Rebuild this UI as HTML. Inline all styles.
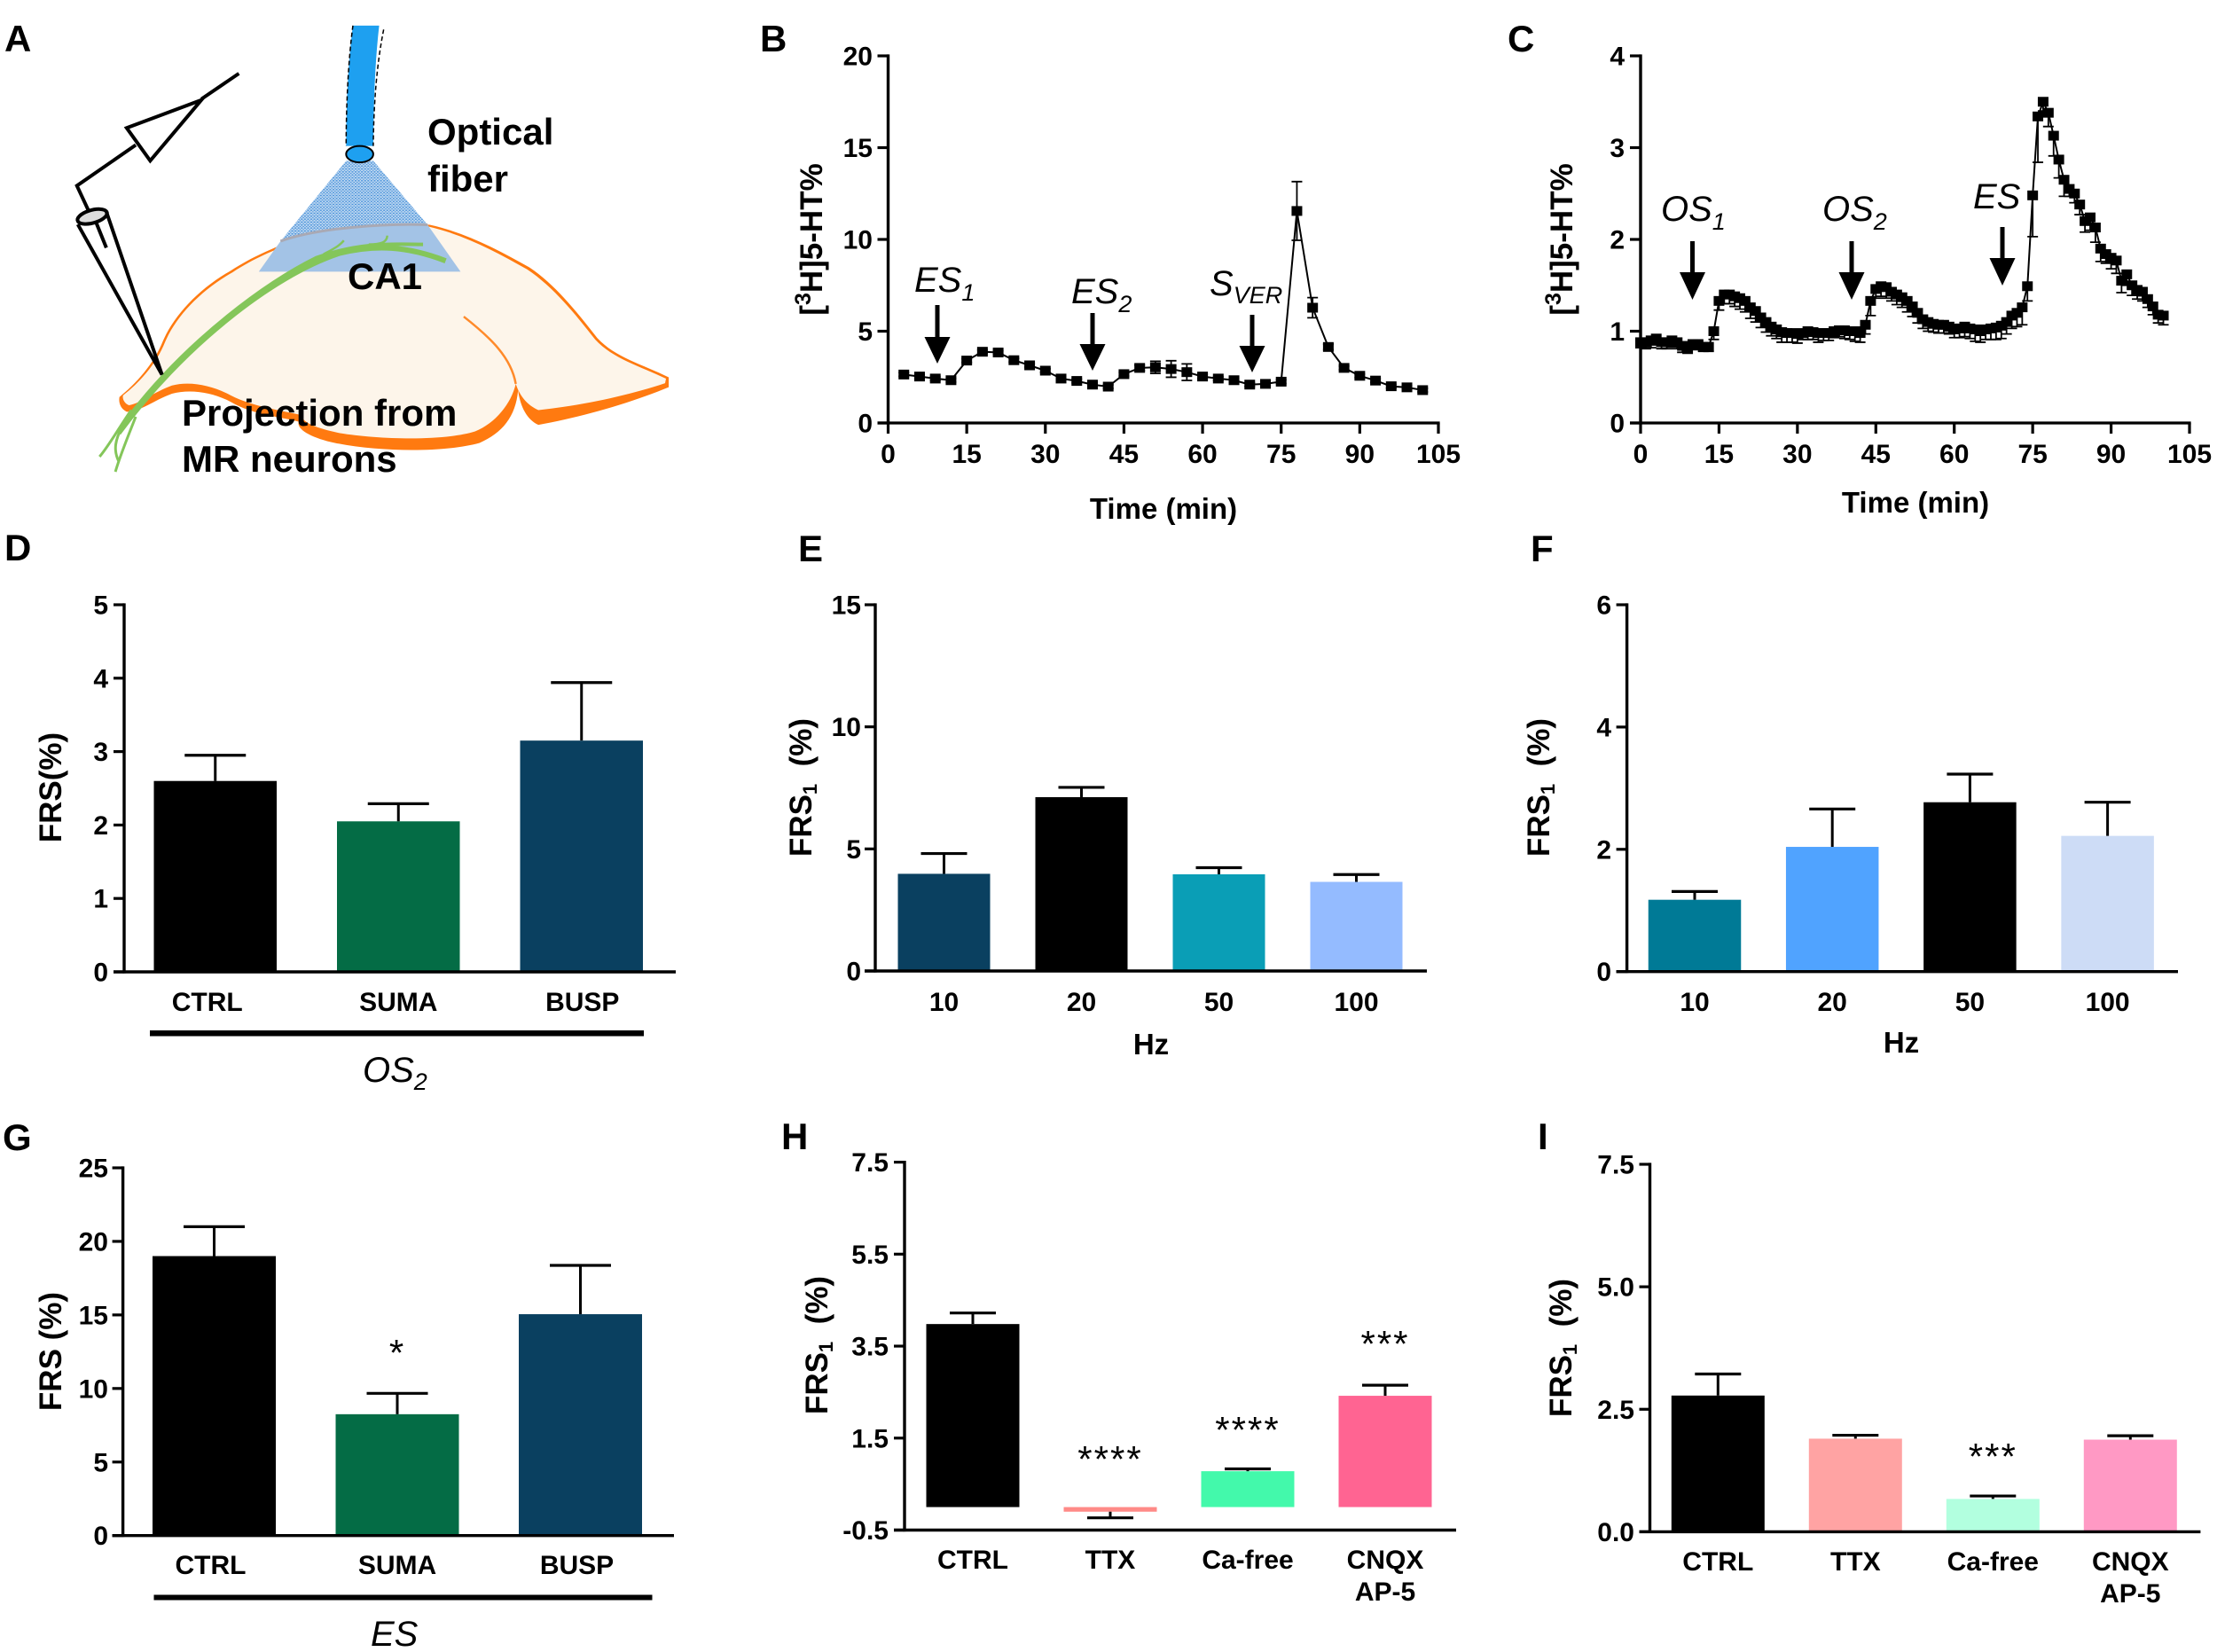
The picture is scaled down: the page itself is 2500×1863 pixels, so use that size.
<!DOCTYPE html>
<html lang="en">
<head>
<meta charset="utf-8">
<title>Optogenetic and electrical stimulation of 5-HT release</title>
<style>
html,body{margin:0;padding:0;background:#fff;}
svg{display:block;}
text{font-family:"Liberation Sans",Arial,sans-serif;fill:#000;}
.panel{font-size:42px;font-weight:bold;}
.title{font-size:35px;font-weight:bold;text-anchor:middle;}
.xtitle{font-size:33px;font-weight:bold;text-anchor:middle;}
.tick{font-size:30px;font-weight:bold;}
.it{font-size:40px;font-style:italic;}
.dia{font-size:42px;font-weight:bold;}
</style>
</head>
<body>
<svg id="figure" xmlns="http://www.w3.org/2000/svg" width="2500" height="1863" viewBox="0 0 2500 1863">
<defs>
<pattern id="dots" width="7" height="9" patternUnits="userSpaceOnUse">
<rect width="7" height="9" fill="#c3dbf2"/>
<rect x="0" y="0" width="4" height="4" fill="#4a92da"/>
<rect x="4" y="5" width="3" height="3" fill="#4a92da"/>
</pattern>
</defs>

<g>
<g transform="scale(.5102 .37)">
<path fill="#ff7a10" d="M264 1210 C300 1170 340 1110 360 1040 C385 960 440 880 510 825 C560 780 600 760 640 735 C720 700 860 680 950 685 C1030 710 1100 760 1170 815 C1230 870 1280 960 1320 1030 C1360 1090 1420 1110 1478 1150 L1478 1180 C1400 1225 1290 1270 1190 1295 C1165 1280 1150 1240 1145 1190 C1140 1270 1110 1320 1060 1350 C980 1380 840 1378 740 1350 C690 1335 655 1310 660 1285 C620 1270 560 1265 510 1225 C470 1195 420 1185 380 1200 C340 1220 310 1255 280 1255 C265 1245 262 1225 264 1210 Z"/>
<path fill="#fdf5ea" d="M272 1205 C305 1170 345 1112 365 1042 C390 962 445 884 514 830 C564 785 604 765 644 740 C720 705 860 686 948 691 C1026 716 1095 766 1165 821 C1225 876 1275 964 1315 1034 C1355 1094 1415 1116 1472 1154 L1470 1168 C1390 1205 1290 1235 1190 1250 C1165 1235 1148 1205 1140 1170 C1130 1230 1095 1290 1050 1315 C980 1345 840 1340 750 1320 C700 1305 670 1290 665 1265 C620 1250 560 1240 510 1205 C470 1175 420 1160 380 1175 C340 1195 310 1230 285 1235 C275 1230 270 1215 272 1205 Z"/>
<path fill="none" stroke="#ff8a2a" stroke-width="2.5" vector-effect="non-scaling-stroke" d="M1025 965 C1085 1030 1130 1090 1140 1170"/>
<polygon fill="url(#dots)" points="765,490 825,490 945,685 800,690 620,735"/>
<path fill="#a3c3e6" d="M620 735 C700 695 850 680 945 685 L1018 828 L572 828 Z"/>
<path fill="none" stroke="#a9a9b4" stroke-width="3" vector-effect="non-scaling-stroke" d="M620 735 C700 695 850 680 945 685"/>
<path fill="#1ea0f0" d="M780 78 L838 78 C828 200 826 320 825 445 L765 445 C765 320 770 180 780 78 Z"/>
<path fill="none" stroke="#000" stroke-width="1.5" stroke-dasharray="5 3" vector-effect="non-scaling-stroke" d="M848 90 C832 200 826 320 825 445 M780 78 C770 180 765 320 765 445"/>
<ellipse cx="795" cy="470" rx="30" ry="25" fill="#1ea0f0" stroke="#000" stroke-width="2" vector-effect="non-scaling-stroke"/>
<g fill="none" stroke="#84c65a" vector-effect="non-scaling-stroke">
<path stroke-width="6" vector-effect="non-scaling-stroke" d="M262 1320 C400 1060 600 840 750 772 C830 745 900 750 985 795"/>
<path stroke-width="4" vector-effect="non-scaling-stroke" d="M290 1260 C420 1030 590 860 700 785 C800 735 880 745 935 745"/>
<path stroke-width="2.5" vector-effect="non-scaling-stroke" d="M715 775 C735 760 750 750 760 733"/>
<path stroke-width="2.5" vector-effect="non-scaling-stroke" d="M815 745 C840 745 855 740 856 718"/>
<path stroke-width="3" vector-effect="non-scaling-stroke" d="M290 1250 C260 1310 240 1360 220 1392"/>
<path stroke-width="3" vector-effect="non-scaling-stroke" d="M300 1270 C280 1340 265 1390 255 1438"/>
<path stroke-width="3" vector-effect="non-scaling-stroke" d="M270 1300 C255 1340 250 1370 262 1405"/>
</g>
<g fill="none" stroke="#000" stroke-width="4">
<path vector-effect="non-scaling-stroke" d="M528 224 L445 302"/>
<polygon vector-effect="non-scaling-stroke" points="280,390 445,305 332,490"/>
<path vector-effect="non-scaling-stroke" d="M300 442 L170 566 L195 640"/>
<ellipse vector-effect="non-scaling-stroke" cx="204" cy="660" rx="35" ry="19" transform="rotate(-25 204 660)" fill="#ddd"/>
<path vector-effect="non-scaling-stroke" d="M172 684 L358 1142 L235 645"/>
<path vector-effect="non-scaling-stroke" d="M213 680 L235 755"/>
</g>
</g>
<text class="dia" x="482" y="163">Optical</text>
<text class="dia" x="482" y="216">fiber</text>
<text class="dia" x="392" y="326">CA1</text>
<text class="dia" x="205" y="480">Projection from</text>
<text class="dia" x="205" y="532">MR neurons</text>
</g>

<text class="panel" x="5" y="58">A</text>
<text class="panel" x="857" y="58">B</text>
<text class="panel" x="1700" y="58">C</text>
<text class="panel" x="5" y="632">D</text>
<text class="panel" x="900" y="633">E</text>
<text class="panel" x="1726" y="633">F</text>
<text class="panel" x="3" y="1297">G</text>
<text class="panel" x="881" y="1296">H</text>
<text class="panel" x="1734" y="1296">I</text>

<text class="title" transform="translate(927 270) rotate(-90)">[<tspan dy="-13" font-size="25">3</tspan><tspan dy="13">H]5-HT%</tspan></text>
<text class="xtitle" x="1312" y="585">Time (min)</text>
<text class="title" transform="translate(1773 270) rotate(-90)">[<tspan dy="-13" font-size="25">3</tspan><tspan dy="13">H]5-HT%</tspan></text>
<text class="xtitle" x="2160" y="578">Time (min)</text>
<text class="title" transform="translate(69 888) rotate(-90)">FRS(%)</text>
<text class="title" transform="translate(915 888) rotate(-90)">FRS<tspan dy="6" font-size="22">1</tspan><tspan dy="-6">&#160;&#160;(%)</tspan></text>
<text class="xtitle" x="1298" y="1189">Hz</text>
<text class="title" transform="translate(1747 888) rotate(-90)">FRS<tspan dy="6" font-size="22">1</tspan><tspan dy="-6">&#160;&#160;(%)</tspan></text>
<text class="xtitle" x="2144" y="1187">Hz</text>
<text class="title" transform="translate(69 1524) rotate(-90)">FRS (%)</text>
<text class="title" transform="translate(933 1517) rotate(-90)">FRS<tspan dy="6" font-size="22">1</tspan><tspan dy="-6">&#160;&#160;(%)</tspan></text>
<text class="title" transform="translate(1772 1520) rotate(-90)">FRS<tspan dy="6" font-size="22">1</tspan><tspan dy="-6">&#160;&#160;(%)</tspan></text>

<text class="it" x="1031" y="329">ES<tspan dy="10" font-size="27">1</tspan></text>
<text class="it" x="1208" y="342">ES<tspan dy="10" font-size="27">2</tspan></text>
<text class="it" x="1364" y="333">S<tspan dy="9" font-size="27">VER</tspan></text>
<text class="it" x="1873" y="249">OS<tspan dy="10" font-size="27">1</tspan></text>
<text class="it" x="2055" y="249">OS<tspan dy="10" font-size="27">2</tspan></text>
<text class="it" x="2225" y="235">ES</text>

<g fill="#000" stroke="none">
<path d="M1054.5 344h5v36h12l-14.500 30l-14.500-30h12z"/>
<path d="M1229.500 353h5v35h12l-14.500 30l-14.500-30h12z"/>
<path d="M1409.500 355h5v35h12l-14.500 30l-14.500-30h12z"/>
<path d="M1906 272h5v35h12l-14.500 31l-14.500-31h12z"/>
<path d="M2085.500 272h5v35h12l-14.500 31l-14.500-31h12z"/>
<path d="M2255.500 256h5v35h12l-14.500 31l-14.500-31h12z"/>
</g>

<rect x="169" y="1162" width="557" height="6.500" fill="#000"/>
<text class="it" x="409" y="1220">OS<tspan dy="9" font-size="27">2</tspan></text>
<rect x="173.500" y="1798.500" width="562" height="6" fill="#000"/>
<text class="it" x="418" y="1856">ES</text>
<g id="charts"></g>
</svg>

<script>
/* ---------- Panel B ---------- */
const bTimes = [3,6,9,12,15,18,21,24,27,30,33,36,39,42,45,48,51,54,57,60,63,66,69,72,75,78,81,84,87,90,93,96,99,102];
const bValues = [2.64,2.53,2.42,2.33,3.4,3.88,3.84,3.42,3.14,2.85,2.42,2.29,2.09,1.98,2.66,3.0,3.03,2.94,2.77,2.53,2.42,2.33,2.09,2.13,2.25,11.55,6.28,4.14,3.0,2.57,2.31,2.0,1.94,1.79];
const bErrors = [0.1,0.1,0.1,0.1,0.1,0.1,0.1,0.1,0.1,0.1,0.1,0.1,0.1,0.1,0.1,0.15,0.33,0.45,0.45,0.12,0.1,0.1,0.1,0.1,0.1,1.6,0.55,0.15,0.1,0.1,0.1,0.1,0.1,0.1];
const bYTicks = [0,5,10,15,20];
const bXTicks = [0,15,30,45,60,75,90,105];

/* ---------- Panel C ---------- */
const cTimes = [0,1,2,3,4,5,6,7,8,9,10,11,12,13,14,15,16,17,18,19,20,21,22,23,24,25,26,27,28,29,30,31,32,33,34,35,36,37,38,39,40,41,42,43,44,45,46,47,48,49,50,51,52,53,54,55,56,57,58,59,60,61,62,63,64,65,66,67,68,69,70,71,72,73,74,75,76,77,78,79,80,81,82,83,84,85,86,87,88,89,90,91,92,93,94,95,96,97,98,99,100];
const cValues = [0.88,0.88,0.9,0.92,0.88,0.88,0.9,0.88,0.84,0.82,0.86,0.86,0.83,0.83,1.0,1.33,1.4,1.4,1.38,1.36,1.33,1.26,1.22,1.15,1.1,1.05,1.02,0.99,0.98,0.98,0.97,0.98,1.0,0.99,0.98,0.98,0.98,1.0,1.01,1.01,1.0,1.0,0.98,1.07,1.33,1.46,1.49,1.48,1.43,1.4,1.37,1.33,1.27,1.2,1.13,1.1,1.08,1.07,1.07,1.05,1.02,1.03,1.05,1.03,1.02,1.0,1.02,1.03,1.04,1.06,1.1,1.17,1.2,1.26,1.49,2.48,3.34,3.5,3.38,3.13,2.87,2.65,2.55,2.5,2.38,2.2,2.24,2.13,1.9,1.84,1.8,1.77,1.55,1.62,1.5,1.45,1.43,1.35,1.27,1.18,1.17];
const cErrors = [0.06,0.07,0.08,0.07,0.07,0.07,0.07,0.07,0.07,0.06,0.06,0.06,0.05,0.05,0.09,0.1,0.1,0.1,0.11,0.12,0.12,0.12,0.12,0.11,0.11,0.1,0.1,0.11,0.1,0.1,0.1,0.07,0.09,0.08,0.1,0.08,0.08,0.07,0.07,0.09,0.09,0.11,0.1,0.1,0.16,0.1,0.11,0.12,0.1,0.11,0.11,0.12,0.11,0.11,0.1,0.1,0.09,0.09,0.09,0.08,0.09,0.1,0.11,0.11,0.13,0.12,0.11,0.12,0.13,0.14,0.13,0.14,0.15,0.19,0.16,0.45,0.5,0.1,0.15,0.22,0.2,0.18,0.08,0.1,0.11,0.12,0.14,0.16,0.14,0.1,0.12,0.14,0.13,0.12,0.11,0.1,0.1,0.09,0.09,0.09,0.1];
const cYTicks = [0,1,2,3,4];
const cXTicks = [0,15,30,45,60,75,90,105];

/* ---------- Panel D ---------- */
const dCategories = ["CTRL","SUMA","BUSP"];
const dValues = [2.6,2.05,3.15];
const dErrors = [0.35,0.24,0.79];
const dColors = ["#000000","#046c45","#0a4060"];
const dYTicks = ["0","1","2","3","4","5"];

/* ---------- Panel E ---------- */
const eCategories = ["10","20","50","100"];
const eValues = [3.98,7.12,3.96,3.65];
const eErrors = [0.83,0.4,0.27,0.3];
const eColors = ["#0a4060","#000000","#0a9eb6","#94bbff"];
const eYTicks = ["0","5","10","15"];

/* ---------- Panel F ---------- */
const fCategories = ["10","20","50","100"];
const fValues = [1.175,2.04,2.77,2.22];
const fErrors = [0.135,0.62,0.46,0.55];
const fColors = ["#007a96","#50a3ff","#000000","#cddcf6"];
const fYTicks = ["0","2","4","6"];

/* ---------- Panel G ---------- */
const gCategories = ["CTRL","SUMA","BUSP"];
const gValues = [19.0,8.25,15.05];
const gErrors = [2.0,1.42,3.32];
const gColors = ["#000000","#046c45","#0a4060"];
const gYTicks = ["0","5","10","15","20","25"];
const gStars = ["","*",""];

/* ---------- Panel H ---------- */
const hCategories = ["CTRL","TTX","Ca-free","CNQX\nAP-5"];
const hValues = [3.98,-0.1,0.78,2.42];
const hErrors = [0.24,0.134,0.05,0.23];
const hColors = ["#000000","#ff8a87","#43f9ab","#ff6492"];
const hYTicks = ["-0.5","1.5","3.5","5.5","7.5"];
const hStars = ["","****","****","***"];

/* ---------- Panel I ---------- */
const iCategories = ["CTRL","TTX","Ca-free","CNQX\nAP-5"];
const iValues = [2.78,1.9,0.67,1.88];
const iErrors = [0.44,0.07,0.06,0.08];
const iColors = ["#000000","#ffa3a3","#b2ffdf","#ff99c4"];
const iYTicks = ["0.0","2.5","5.0","7.5"];
const iStars = ["","","***",""];

const NS = "http://www.w3.org/2000/svg";
const root = document.getElementById("charts");

function make(parent, tag, attrs) {
  const el = document.createElementNS(NS, tag);
  for (const k in attrs) el.setAttribute(k, attrs[k]);
  parent.appendChild(el);
  return el;
}
function scale(d0, d1, r0, r1) {
  return function (v) { return r0 + (v - d0) * (r1 - r0) / (d1 - d0); };
}
function hline(parent, x1, x2, y, w) {
  return make(parent, "line", {x1: x1, x2: x2, y1: y, y2: y, stroke: "#000", "stroke-width": w});
}
function vline(parent, x, y1, y2, w) {
  return make(parent, "line", {x1: x, x2: x, y1: y1, y2: y2, stroke: "#000", "stroke-width": w});
}

function drawYAxis(g, prefix, ticks, y, xAxis, labelRight, bottomY, topY) {
  const axis = vline(g, xAxis, topY - 1.6, bottomY + 1.6, 3.4);
  
  
  ticks.forEach(function (t) {
    const py = y(parseFloat(t));
    const mark = hline(g, xAxis - 12, xAxis, py, 3.2);
    
    
    const label = make(g, "text", {class: "tick", x: labelRight, y: py + 10.5, "text-anchor": "end"});
    
    
    label.textContent = t;
  });
}

function drawTimeChart(prefix, times, values, errors, yTicks, xTicks, box) {
  const g = make(root, "g", {});
  
  
  const x = scale(0, 105, box.x0, box.x1);
  const y = scale(0, yTicks[yTicks.length - 1], box.y0, box.y1);
  drawYAxis(g, prefix, yTicks.map(String), y, box.x0, box.labelRight, box.y0, box.y1);
  const xAxisLine = hline(g, box.x0 - 12, box.x1 + 1.6, box.y0, 3.2);
  
  
  xTicks.forEach(function (t) {
    const px = x(t);
    const mark = vline(g, px, box.y0, box.y0 + 12, 3.2);
    
    
    const label = make(g, "text", {class: "tick", x: px, y: box.y0 + 45, "text-anchor": "middle"});
    
    
    label.textContent = t;
  });
  const pts = times.map(function (t, i) { return x(t) + "," + y(values[i]); }).join(" ");
  const line = make(g, "polyline", {points: pts, fill: "none", stroke: "#000", "stroke-width": 2});
  
  
  times.forEach(function (t, i) {
    const px = x(t);
    const hi = box.lowerOnly ? y(values[i]) : y(values[i] + errors[i]);
    const lo = y(values[i] - errors[i]);
    let path = "M" + px + " " + hi + "V" + lo + "M" + (px - 6) + " " + lo + "H" + (px + 6);
    if (!box.lowerOnly) path += "M" + (px - 6) + " " + hi + "H" + (px + 6);
    const err = make(g, "path", {d: path, stroke: "#000", "stroke-width": 1.8, fill: "none"});
    
    
  });
  times.forEach(function (t, i) {
    const pt = make(g, "rect", {x: x(t) - 6, y: y(values[i]) - 5.5, width: 12, height: 11, fill: "#000"});
    
    
  });
}

function drawBarChart(prefix, cats, values, errors, colors, yTicks, stars, box) {
  const g = make(root, "g", {});
  
  
  const tickNums = yTicks.map(parseFloat);
  const y = scale(tickNums[0], tickNums[tickNums.length - 1], box.y0, box.y1);
  const zero = y(0);
  values.forEach(function (v, i) {
    const c = box.c0 + i * box.step;
    const top = Math.min(y(v), zero);
    const bar = make(g, "rect", {x: c - box.w / 2, y: top, width: box.w, height: Math.abs(y(v) - zero), fill: colors[i]});
    
    
    const dir = v < 0 ? -1 : 1;
    const tip = y(v + dir * errors[i]);
    const stem = vline(g, c, y(v), tip, 3);
    
    
    const cap = hline(g, c - box.cap / 2, c + box.cap / 2, tip, 3.2);
    
    
    const lines = cats[i].split("\n");
    lines.forEach(function (txt, k) {
      const label = make(g, "text", {class: "tick", x: c + (box.labelDx ? box.labelDx[i] : 0), y: box.labelY + k * 36, "text-anchor": "middle"});
      
      
      label.textContent = txt;
    });
    if (stars && stars[i]) {
      const star = make(g, "text", {x: c, y: box.starY[i], "text-anchor": "middle", "font-size": 42, "letter-spacing": 2});
      
      
      star.textContent = stars[i];
    }
  });
  drawYAxis(g, prefix, yTicks, y, box.x0, box.labelRight, box.y0, box.y1);
  const xAxisLine = hline(g, box.x0 - 12, box.xEnd, box.y0, 3.4);
  
  
}

drawTimeChart("b", bTimes, bValues, bErrors, bYTicks, bXTicks, {x0: 1001.5, x1: 1622, y0: 477, y1: 63, labelRight: 984, lowerOnly: false});
drawTimeChart("c", cTimes, cValues, cErrors, cYTicks, cXTicks, {x0: 1850, x1: 2469, y0: 477, y1: 63, labelRight: 1832, lowerOnly: true});

drawBarChart("d", dCategories, dValues, dErrors, dColors, dYTicks, null,
  {x0: 140, xEnd: 762, y0: 1096, y1: 682, c0: 242.75, step: 206.5, w: 138.5, cap: 69, labelY: 1140, labelRight: 122, labelDx: [-9, 0, 1]});
drawBarChart("e", eCategories, eValues, eErrors, eColors, eYTicks, null,
  {x0: 987, xEnd: 1609, y0: 1095, y1: 682, c0: 1064.5, step: 155, w: 104, cap: 52, labelY: 1140, labelRight: 971});
drawBarChart("f", fCategories, fValues, fErrors, fColors, fYTicks, null,
  {x0: 1834.6, xEnd: 2456, y0: 1095.7, y1: 682, c0: 1911, step: 155.2, w: 104.5, cap: 52, labelY: 1140, labelRight: 1817});
drawBarChart("g", gCategories, gValues, gErrors, gColors, gYTicks, gStars,
  {x0: 138.6, xEnd: 760, y0: 1731.7, y1: 1317, c0: 241.5, step: 206.5, w: 139, cap: 69, labelY: 1775, labelRight: 122, labelDx: [-4, 0, -4], starY: [0, 1540, 0]});
drawBarChart("h", hCategories, hValues, hErrors, hColors, hYTicks, hStars,
  {x0: 1020, xEnd: 1642, y0: 1725.5, y1: 1310.6, c0: 1097, step: 155, w: 105, cap: 52, labelY: 1769, labelRight: 1002, starY: [0, 1660, 1627, 1530]});
drawBarChart("i", iCategories, iValues, iErrors, iColors, iYTicks, iStars,
  {x0: 1860.5, xEnd: 2481.4, y0: 1727.4, y1: 1313, c0: 1937.3, step: 155, w: 105, cap: 52, labelY: 1771, labelRight: 1843, starY: [0, 0, 1657, 0]});
</script>
</body>
</html>
